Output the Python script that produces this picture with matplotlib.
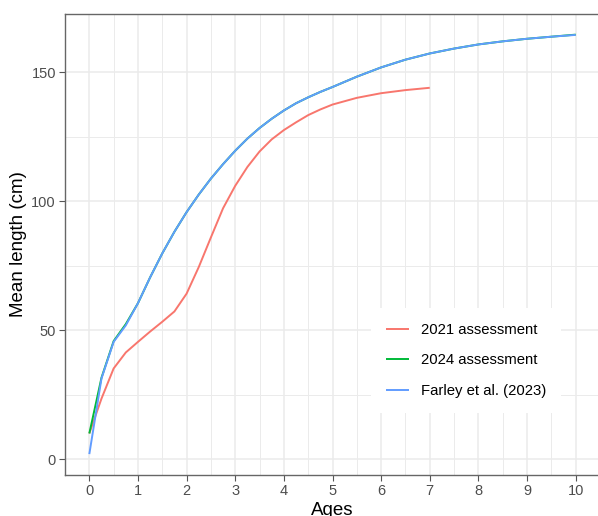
import matplotlib
matplotlib.use("Agg")
import matplotlib.pyplot as plt
from matplotlib.ticker import MultipleLocator

plt.rcParams['font.family'] = ['Liberation Sans', 'DejaVu Sans']

# ---- data ----
ages_2021 = [0, 0.25, 0.5, 0.75, 1.0, 1.25, 1.5, 1.75, 2.0, 2.25, 2.5, 2.75, 3.0,
             3.25, 3.5, 3.75, 4.0, 4.25, 4.5, 4.75, 5.0, 5.5, 6.0, 6.5, 7.0]
len_2021 = [10.0, 23.5, 35.2, 41.4, 45.5, 49.5, 53.3, 57.3, 64.2, 74.5, 86.0, 97.3, 106.0,
            113.3, 119.3, 124.0, 127.6, 130.6, 133.4, 135.6, 137.5, 140.1, 141.9, 143.1, 144.0]

ages_2024 = [0, 0.25, 0.5, 0.75, 1.0, 1.25, 1.5, 1.75, 2.0, 2.25, 2.5, 2.75, 3.0,
             3.25, 3.5, 3.75, 4.0, 4.25, 4.5, 4.75, 5.0, 5.5, 6.0, 6.5, 7.0,
             7.5, 8.0, 8.5, 9.0, 9.5, 10.0]
len_2024 = [10.0, 31.6, 45.8, 52.4, 60.5, 70.5, 79.8, 88.2, 95.8, 102.6, 108.8, 114.4, 119.6,
            124.3, 128.4, 132.0, 135.2, 138.0, 140.3, 142.4, 144.3, 148.3, 151.9, 154.9, 157.3,
            159.2, 160.8, 162.0, 163.0, 163.8, 164.6]

ages_farley = [0, 0.25, 0.5, 0.75, 1.0, 1.25, 1.5, 1.75, 2.0, 2.25, 2.5, 2.75, 3.0,
               3.25, 3.5, 3.75, 4.0, 4.25, 4.5, 4.75, 5.0, 5.5, 6.0, 6.5, 7.0,
               7.5, 8.0, 8.5, 9.0, 9.5, 10.0]
len_farley = [2.0, 31.3, 45.5, 51.9, 60.5, 70.5, 79.8, 88.2, 95.8, 102.6, 108.8, 114.4, 119.6,
              124.3, 128.4, 132.0, 135.2, 138.0, 140.3, 142.4, 144.3, 148.3, 151.9, 154.9, 157.3,
              159.2, 160.8, 162.0, 163.0, 163.8, 164.5]

series_labels = ["2021 assessment", "2024 assessment", "Farley et al. (2023)"]
series_colors = ["#F8766D", "#00BA38", "#619CFF"]
x_ticks = list(range(0, 11))
y_ticks = [0, 50, 100, 150]

# ---- figure ----
W, H = 598, 516
fig = plt.figure(figsize=(W / 100, H / 100), dpi=100)
left, right, top, bottom = 65, 600, 14, 475
ax = fig.add_axes([left / W, 1 - bottom / H, (right - left) / W, (bottom - top) / H])

for xs, ys, lab, col in zip([ages_2021, ages_2024, ages_farley],
                            [len_2021, len_2024, len_farley],
                            series_labels, series_colors):
    ax.plot(xs, ys, color=col, lw=1.4, label=lab, solid_capstyle='butt')

ax.set_xlim(-0.5, 10.5)
ax.set_ylim(-6.1, 172.6)
ax.set_xticks(x_ticks)
ax.set_yticks(y_ticks)
ax.xaxis.set_minor_locator(MultipleLocator(0.5))
ax.yaxis.set_minor_locator(MultipleLocator(25))
ax.grid(which='major', color='#EBEBEB', lw=1.1)
ax.grid(which='minor', color='#EBEBEB', lw=0.7)
ax.set_axisbelow(True)
ax.tick_params(which='minor', length=0)
ax.tick_params(which='major', length=4, width=0.8, color='#555555',
               labelcolor='#4D4D4D', labelsize=10.5, pad=2.5)
for s in ax.spines.values():
    s.set_color('#666666')
    s.set_linewidth(1.0)
ax.spines['right'].set_visible(False)

ax.set_xlabel("Ages", fontsize=13.5, color='black', labelpad=3)
ax.set_ylabel("Mean length (cm)", fontsize=13.5, color='black', labelpad=3)

leg = ax.legend(loc='center', bbox_to_anchor=(0.7495, 0.2484), frameon=True,
                fontsize=10.7, handlelength=1.6, handletextpad=0.8,
                labelspacing=1.1, borderpad=1.0, fancybox=False)
leg.get_frame().set_facecolor('white')
leg.get_frame().set_edgecolor('none')
leg.get_frame().set_alpha(1)

fig.savefig("out.png", dpi=100)
